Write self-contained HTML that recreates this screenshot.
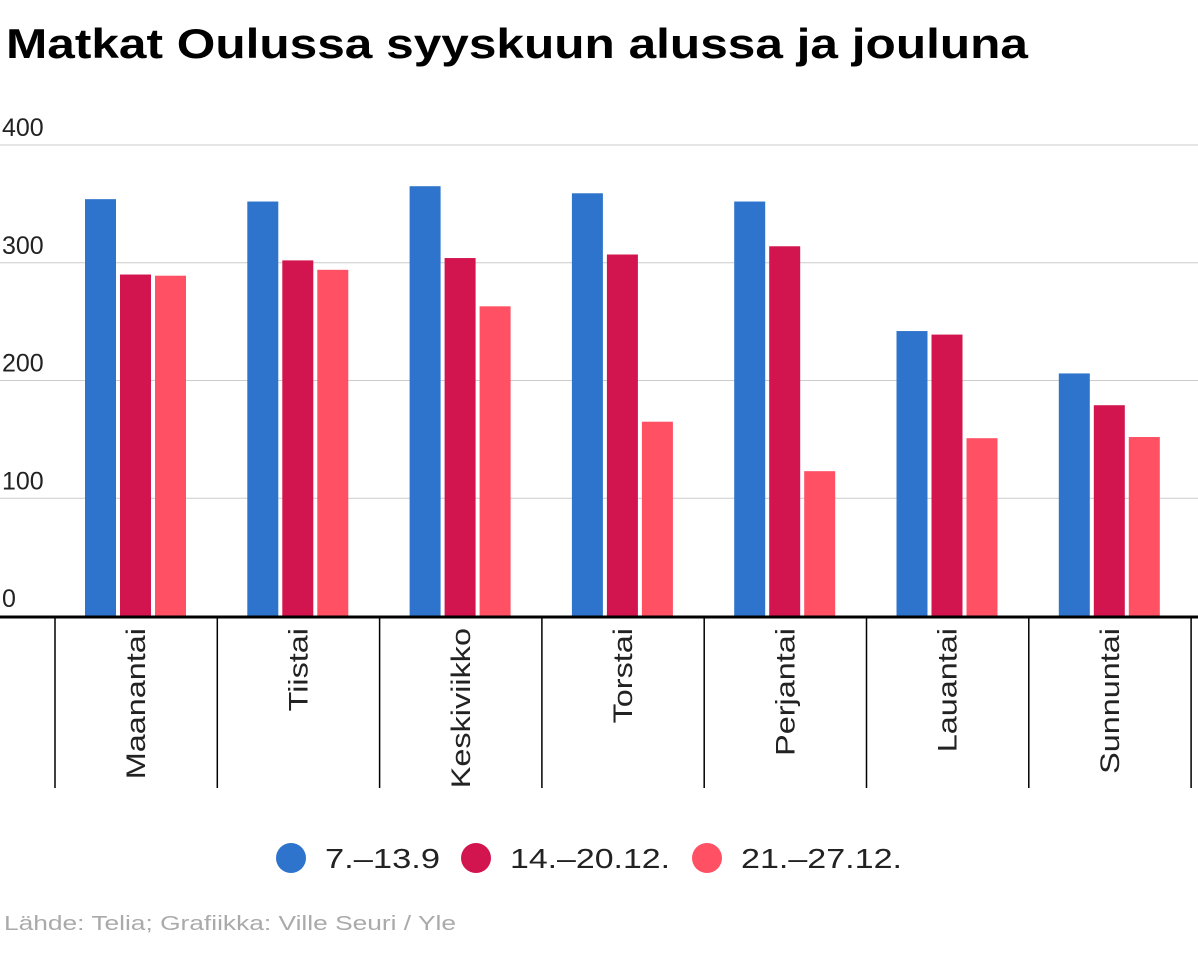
<!DOCTYPE html>
<html><head><meta charset="utf-8"><style>
body{margin:0;background:#fff;font-family:"Liberation Sans",sans-serif;}
</style></head><body>
<svg width="1198" height="965" xmlns="http://www.w3.org/2000/svg" font-family="Liberation Sans, sans-serif">
<text x="6" y="58" font-size="42" font-weight="bold" fill="#000" textLength="1022" lengthAdjust="spacingAndGlyphs">Matkat Oulussa syyskuun alussa ja jouluna</text>
<g id="grid"></g><g id="bars"></g><g id="xaxis"></g>
<g font-size="28" fill="#222">
<circle cx="291" cy="858" r="15" fill="#2f74cc"/>
<text x="325" y="868" textLength="115" lengthAdjust="spacingAndGlyphs">7.–13.9</text>
<circle cx="476" cy="858" r="15" fill="#d2144f"/>
<text x="510" y="868" textLength="160" lengthAdjust="spacingAndGlyphs">14.–20.12.</text>
<circle cx="707" cy="858" r="15" fill="#ff5064"/>
<text x="741" y="868" textLength="161" lengthAdjust="spacingAndGlyphs">21.–27.12.</text>
</g>
<text x="4" y="930" font-size="20" fill="#aaa" textLength="452" lengthAdjust="spacingAndGlyphs">Lähde: Telia; Grafiikka: Ville Seuri / Yle</text>
</svg>
<script>
const categories=["Maanantai","Tiistai","Keskiviikko","Torstai","Perjantai","Lauantai","Sunnuntai"];
const sep=[354,352,365,359,352,242,206];
const dec14=[290,302,304,307,314,239,179];
const dec21=[289,294,263,165,123,151,152];
const yTicks=[0,100,200,300,400];
const ns="http://www.w3.org/2000/svg";
const y0=616,pxPer=(616-145)/400;
const y=v=>y0-v*pxPer;
const bandStart=55,bandW=162.3;
function mk(t,a,p){const e=document.createElementNS(ns,t);for(const k in a)e.setAttribute(k,a[k]);p.appendChild(e);return e;}
const grid=document.getElementById('grid');
yTicks.forEach(v=>{
 if(v>0){const l=mk('line',{x1:0,x2:1198,y1:y(v),y2:y(v),stroke:'#ccc','stroke-width':1},grid);
 
 }
 const t=mk('text',{x:2,y:y(v)-9,'font-size':25,fill:'#222'},grid);t.textContent=v;
 
 
});
const bars=document.getElementById('bars');
const series=[[sep,'#2f74cc','sep'],[dec14,'#d2144f','dec14'],[dec21,'#ff5064','dec21']];
categories.forEach((c,i)=>{
 series.forEach((s,j)=>{
  const v=s[0][i];const x=bandStart+i*bandW+30+j*35;
  const r=mk('rect',{x:x,y:y(v),width:31,height:y0-y(v),fill:s[1]},bars);
  
  
 });
});
const xa=document.getElementById('xaxis');
const base=mk('line',{x1:0,x2:1198,y1:617,y2:617,stroke:'#000','stroke-width':3},xa);


for(let i=0;i<=categories.length;i++){
 const x=bandStart+i*bandW;
 const t=mk('line',{x1:x,x2:x,y1:617,y2:788,stroke:'#000','stroke-width':1.5},xa);
 
 
}
categories.forEach((c,i)=>{
 const cx=bandStart+i*bandW+bandW/2+9;
 const t=mk('text',{x:0,y:0,'font-size':27,fill:'#222','text-anchor':'end',transform:`translate(${cx},628) rotate(-90) scale(1.2,1)`},xa);
 t.textContent=c;
 
 
});
</script>
</body></html>
